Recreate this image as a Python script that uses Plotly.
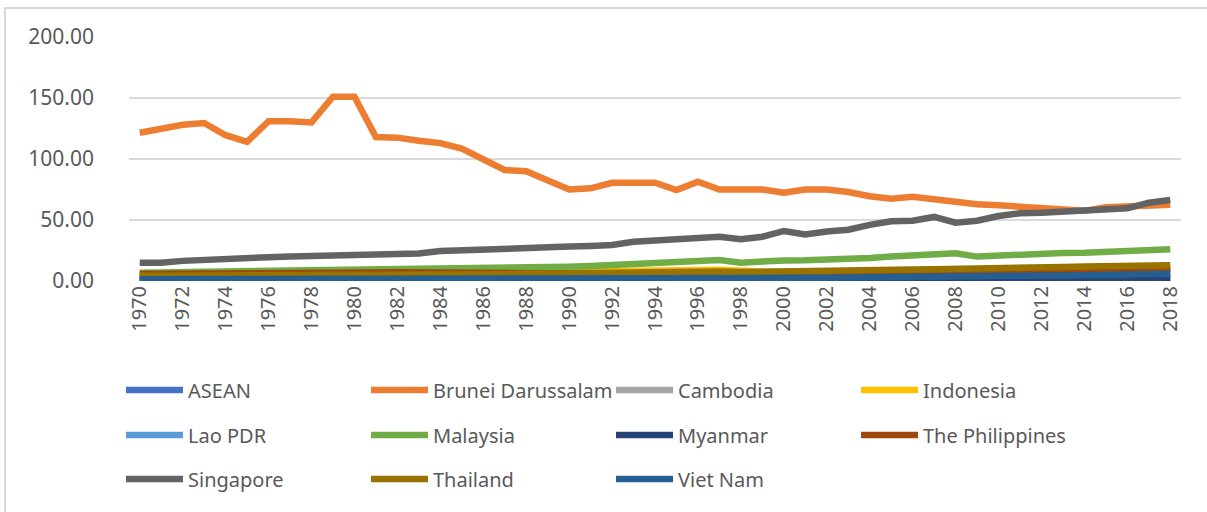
import plotly.graph_objects as go

years = [str(y) for y in range(1970, 2019)]

asean = [2.8, 2.9, 3.0, 3.1, 3.1, 3.2, 3.3, 3.4, 3.5, 3.6, 3.6, 3.6, 3.6, 3.7, 3.8, 3.9, 4.0, 4.1, 4.2, 4.4, 4.6, 4.8, 5.0, 5.2, 5.4, 5.6, 5.8, 5.9, 5.6, 5.7, 5.8, 5.9, 6.0, 6.2, 6.4, 6.5, 6.6, 6.7, 6.8, 6.8, 7.0, 7.1, 7.2, 7.3, 7.4, 7.5, 7.6, 7.8, 7.9]
brunei = [121.5, 125.0, 128.0, 129.5, 119.5, 114.0, 131.0, 131.0, 130.0, 151.0, 151.0, 118.0, 117.5, 115.0, 113.0, 108.5, 99.0, 91.0, 90.0, 82.0, 75.0, 76.0, 80.5, 80.5, 80.5, 74.6, 81.4, 75.0, 75.0, 75.0, 72.4, 75.0, 75.0, 73.0, 69.5, 67.5, 69.0, 67.0, 64.5, 63.0, 62.0, 61.0, 60.0, 58.5, 57.5, 60.5, 61.0, 61.5, 62.5]
cambodia = [0.4, 0.4, 0.3, 0.3, 0.3, 0.2, 0.2, 0.2, 0.2, 0.2, 0.2, 0.2, 0.2, 0.2, 0.2, 0.2, 0.2, 0.2, 0.3, 0.3, 0.3, 0.3, 0.3, 0.3, 0.3, 0.3, 0.3, 0.3, 0.4, 0.4, 0.4, 0.5, 0.5, 0.6, 0.6, 0.7, 0.8, 0.9, 1.0, 1.0, 1.1, 1.2, 1.3, 1.4, 1.5, 1.6, 1.8, 1.9, 2.0]
indonesia = [2.4, 2.6, 2.8, 3.0, 3.2, 3.4, 3.6, 3.9, 4.1, 4.3, 4.5, 4.7, 4.8, 5.0, 5.2, 5.5, 6.0, 6.4, 6.8, 7.3, 7.8, 8.2, 8.5, 8.7, 8.9, 9.0, 9.1, 9.2, 8.0, 7.8, 7.6, 7.7, 7.8, 7.9, 8.0, 8.0, 8.1, 8.2, 8.3, 8.4, 8.5, 8.6, 8.8, 8.9, 9.0, 9.1, 9.2, 9.4, 9.5]
lao = [0.5, 0.5, 0.5, 0.5, 0.5, 0.4, 0.4, 0.4, 0.4, 0.4, 0.4, 0.4, 0.4, 0.4, 0.5, 0.5, 0.5, 0.5, 0.5, 0.5, 0.5, 0.5, 0.6, 0.6, 0.6, 0.6, 0.7, 0.7, 0.7, 0.7, 0.8, 0.8, 0.8, 0.9, 0.9, 1.0, 1.0, 1.1, 1.1, 1.2, 1.3, 1.4, 1.5, 1.6, 1.7, 1.8, 1.9, 2.0, 2.1]
malaysia = [6.8, 7.0, 7.3, 7.6, 7.8, 8.0, 8.3, 8.6, 8.8, 9.1, 9.3, 9.4, 9.5, 9.6, 9.8, 10.0, 10.2, 10.4, 10.6, 11.2, 11.7, 12.3, 13.0, 13.7, 14.8, 15.8, 16.5, 17.2, 15.0, 16.6, 16.9, 17.0, 17.2, 17.8, 18.8, 20.0, 21.3, 22.0, 22.7, 20.0, 21.0, 21.9, 22.5, 23.0, 23.2, 24.0, 24.8, 25.5, 26.0]
myanmar = [0.8, 0.8, 0.8, 0.8, 0.8, 0.8, 0.8, 0.8, 0.9, 0.9, 0.9, 0.9, 0.9, 0.9, 0.9, 0.9, 0.8, 0.8, 0.7, 0.7, 0.7, 0.7, 0.7, 0.7, 0.8, 0.8, 0.8, 0.8, 0.9, 0.9, 0.9, 1.0, 1.0, 1.0, 1.1, 1.1, 1.1, 1.2, 1.2, 1.2, 1.3, 1.4, 1.5, 1.6, 1.7, 1.8, 1.9, 2.0, 2.2]
philippines = [5.7, 5.7, 5.8, 6.0, 5.8, 5.9, 6.1, 6.3, 6.5, 6.6, 6.8, 7.0, 7.1, 7.0, 6.2, 5.7, 5.5, 5.6, 5.8, 5.9, 5.9, 5.8, 5.9, 6.0, 6.3, 6.6, 6.9, 7.1, 6.9, 6.8, 6.9, 6.7, 6.7, 6.8, 6.9, 6.7, 6.6, 6.8, 6.9, 6.9, 7.3, 7.3, 7.6, 8.0, 8.3, 8.8, 9.4, 9.7, 10.0]
singapore = [15.0, 15.0, 16.5, 17.5, 17.8, 18.5, 19.5, 20.0, 20.3, 20.8, 21.0, 21.2, 21.3, 22.5, 24.5, 25.3, 25.5, 26.3, 27.0, 27.3, 28.2, 28.7, 29.5, 32.2, 33.5, 35.0, 35.8, 36.3, 34.2, 36.3, 41.0, 38.2, 40.5, 42.0, 46.0, 49.0, 49.4, 52.5, 47.8, 49.4, 53.3, 55.5, 56.0, 56.8, 56.8, 58.8, 59.6, 64.2, 66.4]
thailand = [4.3, 4.3, 4.4, 4.5, 4.4, 4.5, 4.6, 4.8, 4.9, 5.0, 4.9, 4.8, 4.8, 4.9, 5.0, 5.1, 5.3, 5.6, 5.9, 6.2, 6.5, 6.8, 7.0, 7.2, 7.5, 7.8, 7.9, 7.8, 7.3, 7.4, 7.6, 7.8, 8.2, 8.6, 9.0, 9.2, 9.4, 9.7, 9.8, 9.9, 10.4, 10.7, 11.2, 11.5, 11.8, 12.1, 12.4, 12.6, 12.9]
vietnam = [1.5, 1.5, 1.5, 1.5, 1.5, 1.5, 1.5, 1.5, 1.5, 1.5, 1.5, 1.5, 1.5, 1.5, 1.5, 1.5, 1.5, 1.5, 1.5, 1.5, 1.5, 1.5, 1.6, 1.6, 1.6, 1.7, 1.7, 1.7, 1.8, 1.8, 2.0, 2.3, 2.6, 2.9, 3.2, 3.4, 3.6, 3.8, 4.0, 4.1, 4.3, 4.4, 4.5, 4.6, 4.7, 5.0, 5.3, 5.6, 5.9]

y_ticks = [0, 50, 100, 150, 200]
y_tick_labels = ["0.00", "50.00", "100.00", "150.00", "200.00"]

series = [
    ("ASEAN", asean, "#4472C4", "legend"),
    ("Brunei Darussalam", brunei, "#ED7D31", "legend"),
    ("Cambodia", cambodia, "#A5A5A5", "legend"),
    ("Indonesia", indonesia, "#FFC000", "legend"),
    ("Lao PDR", lao, "#5B9BD5", "legend2"),
    ("Malaysia", malaysia, "#70AD47", "legend2"),
    ("Myanmar", myanmar, "#264478", "legend2"),
    ("The Philippines", philippines, "#9E480E", "legend2"),
    ("Singapore", singapore, "#636363", "legend3"),
    ("Thailand", thailand, "#997300", "legend3"),
    ("Viet Nam", vietnam, "#255E91", "legend3"),
]

fig = go.Figure()
for name, vals, color, leg in series:
    fig.add_trace(go.Scatter(
        x=years, y=vals, name=name, mode="lines",
        line=dict(color=color, width=6.5),
        legend=leg,
    ))

W, H = 1207, 512
L, R, T, B = 129, 26, 37, 231
pw = W - L - R
ph = H - T - B

def px_x(px):
    return (px - L) / pw

def px_y(py):
    return (H - B - py) / ph

font_family = "Noto Sans, Roboto, sans-serif"
txt_color = "#595959"

legend_common = dict(
    orientation="h", xanchor="left", yanchor="middle",
    x=px_x(121), entrywidth=173, entrywidthmode="pixels",
    font=dict(family=font_family, size=20, color=txt_color),
    bgcolor="rgba(0,0,0,0)", itemwidth=57, traceorder="normal",
)

fig.update_layout(
    width=W, height=H,
    margin=dict(l=L, r=R, t=T, b=B, autoexpand=False),
    paper_bgcolor="white", plot_bgcolor="white",
    font=dict(family=font_family, color=txt_color, size=20),
    showlegend=True,
    legend=dict(legend_common, y=px_y(390)),
    legend2=dict(legend_common, y=px_y(435)),
    legend3=dict(legend_common, y=px_y(479)),
    xaxis=dict(
        type="category", range=[-0.5, 48.5],
        tickmode="array", tickvals=years[::2], ticktext=years[::2],
        tickangle=-90, showgrid=False, showline=False, zeroline=False,
        ticks="", tickfont=dict(family=font_family, size=20, color=txt_color),
    ),
    yaxis=dict(
        range=[0, 200], tickmode="array", tickvals=y_ticks, ticktext=y_tick_labels,
        showgrid=True, gridcolor="#D9D9D9", gridwidth=2,
        zeroline=False, showline=False, ticks="",
        ticklabelstandoff=34,
        tickfont=dict(family=font_family, size=21, color=txt_color),
    ),
    shapes=[dict(
        type="rect", xref="paper", yref="paper",
        x0=px_x(5), x1=px_x(1212), y0=px_y(520), y1=px_y(8),
        line=dict(color="#D9D9D9", width=2), fillcolor="rgba(0,0,0,0)",
        layer="below",
    )],
)

fig.write_html(
    "out.html",
    config={"displayModeBar": False},
    post_script="document.body.style.margin='0';document.body.style.overflow='hidden';",
)
